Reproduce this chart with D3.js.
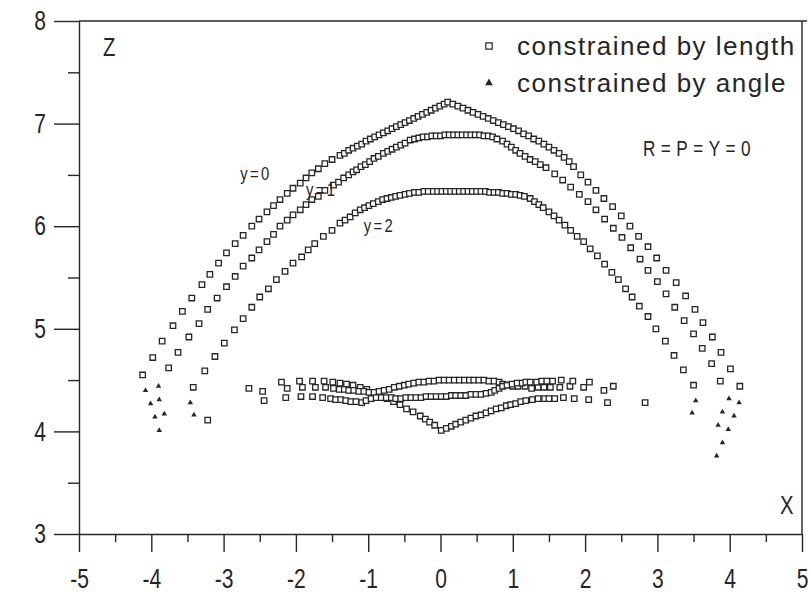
<!DOCTYPE html>
<html>
<head>
<meta charset="utf-8">
<script src="https://cdn.jsdelivr.net/npm/d3@7/dist/d3.min.js"></script>
<style>
  body { margin: 0; background: #fff; }
  svg { display: block; }
  text { font-family: "Liberation Sans", Arial, Helvetica, sans-serif; }
</style>
</head>
<body>
<div id="chart"></div>
<script>
// axis ticks
const xMajor = [-5, -4, -3, -2, -1, 0, 1, 2, 3, 4, 5];
const xMinor = [-4.5, -3.5, -2.5, -1.5, -0.5, 0.5, 1.5, 2.5, 3.5, 4.5];
const yMajor = [3, 4, 5, 6, 7, 8];
const yMinor = [3.5, 4.5, 5.5, 6.5, 7.5];

// constrained by length, y = 0 (outer arch) [x, z]
const archY0 = [
  [-4.12,4.55],[-3.98,4.72],[-3.85,4.88],[-3.70,5.03],[-3.57,5.17],[-3.44,5.30],[-3.30,5.43],[-3.19,5.53],
  [-3.07,5.64],[-2.96,5.74],[-2.84,5.83],[-2.73,5.91],[-2.61,6.00],[-2.51,6.07],[-2.40,6.14],[-2.31,6.20],
  [-2.22,6.26],[-2.12,6.32],[-2.04,6.37],[-1.94,6.42],[-1.86,6.47],[-1.78,6.52],[-1.69,6.56],[-1.60,6.61],
  [-1.50,6.65],[-1.39,6.69],[-1.33,6.71],[-1.27,6.74],[-1.21,6.76],[-1.15,6.78],[-1.09,6.80],[-1.03,6.83],
  [-0.97,6.85],[-0.91,6.87],[-0.85,6.89],[-0.79,6.91],[-0.73,6.93],[-0.67,6.95],[-0.61,6.97],[-0.55,6.99],
  [-0.49,7.01],[-0.43,7.03],[-0.37,7.05],[-0.31,7.07],[-0.25,7.09],[-0.19,7.11],[-0.13,7.13],[-0.07,7.15],
  [-0.01,7.17],[0.05,7.19],[0.10,7.21],[0.17,7.19],[0.24,7.17],[0.31,7.15],[0.38,7.13],[0.45,7.11],
  [0.52,7.09],[0.59,7.07],[0.66,7.05],[0.73,7.03],[0.80,7.01],[0.87,6.99],[0.94,6.97],[1.01,6.95],
  [1.08,6.93],[1.15,6.90],[1.22,6.88],[1.29,6.85],[1.36,6.83],[1.43,6.80],[1.50,6.77],[1.57,6.74],
  [1.64,6.71],[1.71,6.67],[1.78,6.63],[1.84,6.58],[1.94,6.50],[2.04,6.43],[2.15,6.35],[2.26,6.27],
  [2.38,6.19],[2.50,6.10],[2.62,6.00],[2.74,5.90],[2.87,5.80],[2.99,5.69],[3.12,5.57],[3.26,5.45],
  [3.39,5.32],[3.52,5.19],[3.63,5.06],[3.76,4.92],[3.88,4.77],[4.01,4.61],[4.14,4.44]
];

// constrained by length, y = 1
const archY1 = [
  [-3.76,4.62],[-3.63,4.77],[-3.48,4.92],[-3.34,5.05],[-3.22,5.19],[-3.09,5.30],[-2.96,5.41],[-2.84,5.51],
  [-2.73,5.61],[-2.61,5.69],[-2.51,5.77],[-2.40,5.85],[-2.31,5.92],[-2.22,6.00],[-2.12,6.06],[-2.04,6.11],
  [-1.94,6.16],[-1.86,6.21],[-1.78,6.26],[-1.69,6.29],[-1.60,6.35],[-1.48,6.40],[-1.41,6.43],[-1.34,6.47],
  [-1.27,6.50],[-1.21,6.53],[-1.16,6.55],[-1.10,6.58],[-1.04,6.60],[-0.98,6.63],[-0.92,6.66],[-0.86,6.68],
  [-0.79,6.71],[-0.73,6.73],[-0.67,6.75],[-0.61,6.77],[-0.55,6.79],[-0.49,6.81],[-0.42,6.84],[-0.36,6.85],
  [-0.30,6.86],[-0.24,6.87],[-0.18,6.87],[-0.12,6.88],[-0.06,6.88],[0.00,6.88],[0.06,6.89],[0.12,6.89],
  [0.18,6.89],[0.24,6.89],[0.30,6.89],[0.36,6.89],[0.42,6.89],[0.48,6.89],[0.54,6.89],[0.60,6.88],
  [0.66,6.88],[0.72,6.87],[0.78,6.85],[0.86,6.83],[0.92,6.80],[0.98,6.77],[1.04,6.74],[1.10,6.71],
  [1.17,6.68],[1.24,6.65],[1.31,6.63],[1.38,6.60],[1.46,6.57],[1.58,6.51],[1.69,6.45],[1.80,6.38],
  [1.92,6.31],[2.04,6.24],[2.15,6.16],[2.27,6.07],[2.39,5.98],[2.51,5.89],[2.63,5.79],[2.76,5.68],
  [2.87,5.57],[3.00,5.46],[3.12,5.34],[3.24,5.21],[3.37,5.08],[3.50,4.95],[3.62,4.81],[3.75,4.66],[3.87,4.49]
];

// constrained by length, y = 2
const archY2 = [
  [-3.26,4.59],[-3.12,4.73],[-2.99,4.86],[-2.85,4.99],[-2.73,5.10],[-2.61,5.21],[-2.50,5.31],[-2.38,5.39],
  [-2.27,5.48],[-2.15,5.56],[-2.04,5.64],[-1.92,5.70],[-1.83,5.77],[-1.74,5.83],[-1.62,5.90],[-1.50,5.96],
  [-1.39,6.03],[-1.32,6.06],[-1.25,6.09],[-1.18,6.13],[-1.11,6.16],[-1.05,6.18],[-0.99,6.20],[-0.93,6.22],
  [-0.86,6.24],[-0.80,6.26],[-0.74,6.27],[-0.68,6.28],[-0.62,6.29],[-0.56,6.30],[-0.49,6.31],[-0.43,6.32],
  [-0.36,6.33],[-0.30,6.33],[-0.23,6.34],[-0.17,6.34],[-0.10,6.34],[-0.04,6.34],[0.02,6.34],[0.08,6.34],
  [0.14,6.34],[0.20,6.34],[0.26,6.34],[0.32,6.34],[0.38,6.34],[0.44,6.34],[0.50,6.34],[0.56,6.34],
  [0.62,6.34],[0.68,6.33],[0.74,6.33],[0.80,6.33],[0.86,6.32],[0.92,6.32],[0.98,6.31],[1.04,6.31],
  [1.10,6.30],[1.16,6.29],[1.24,6.27],[1.30,6.24],[1.36,6.21],[1.42,6.18],[1.50,6.14],[1.57,6.10],
  [1.64,6.06],[1.72,6.01],[1.80,5.96],[1.89,5.90],[1.98,5.85],[2.07,5.78],[2.17,5.71],[2.27,5.63],
  [2.37,5.55],[2.46,5.48],[2.56,5.39],[2.65,5.31],[2.75,5.22],[2.87,5.12],[2.98,5.00],[3.11,4.88],
  [3.23,4.74],[3.36,4.60],[3.50,4.45]
];

// lower branches, constrained by length
const lowerA = [
  [-2.46,4.39],[-2.20,4.48],[-1.95,4.49],[-1.77,4.49],[-1.61,4.49],[-1.49,4.48],[-1.39,4.47],[-1.30,4.46],
  [-1.21,4.45],[-1.11,4.43],[-1.02,4.41],[-0.93,4.38],[-0.84,4.35],[-0.74,4.32],[-0.65,4.29],[-0.56,4.26],
  [-0.47,4.22],[-0.38,4.19],[-0.28,4.15],[-0.21,4.12],[-0.15,4.09],[-0.08,4.06],[0.01,4.01],[0.08,4.03],
  [0.15,4.05],[0.21,4.07],[0.28,4.09],[0.35,4.11],[0.42,4.13],[0.49,4.15],[0.56,4.16],[0.63,4.18],
  [0.70,4.20],[0.77,4.22],[0.84,4.23],[0.91,4.25],[0.97,4.26],[1.04,4.27],[1.11,4.29],[1.18,4.30],
  [1.27,4.31],[1.35,4.32],[1.44,4.32],[1.50,4.32],[1.58,4.32],[1.70,4.33],[1.85,4.32],[2.05,4.31],
  [2.31,4.28],[2.83,4.28]
];
const lowerB = [
  [-3.42,4.43],[-2.65,4.42],[-2.12,4.42],[-1.91,4.43],[-1.73,4.43],[-1.59,4.43],[-1.48,4.42],[-1.40,4.41],
  [-1.33,4.41],[-1.27,4.40],[-1.20,4.40],[-1.13,4.39],[-1.06,4.39],[-0.99,4.38],[-0.92,4.38],[-0.85,4.39],
  [-0.78,4.40],[-0.71,4.41],[-0.64,4.43],[-0.57,4.44],[-0.50,4.45],[-0.44,4.46],[-0.37,4.47],[-0.30,4.48],
  [-0.23,4.48],[-0.16,4.49],[-0.09,4.49],[-0.02,4.50],[0.05,4.50],[0.12,4.50],[0.19,4.50],[0.26,4.50],
  [0.33,4.50],[0.40,4.50],[0.46,4.50],[0.53,4.50],[0.60,4.50],[0.67,4.49],[0.74,4.49],[0.81,4.48],
  [0.86,4.46],[0.93,4.45],[1.00,4.44],[1.07,4.44],[1.17,4.44],[1.26,4.42],[1.35,4.43],[1.43,4.43],
  [1.52,4.43],[1.65,4.43],[1.79,4.44],[1.98,4.43],[2.26,4.40]
];
const lowerC = [
  [-3.22,4.11],[-2.44,4.30],[-2.14,4.33],[-1.93,4.34],[-1.77,4.34],[-1.63,4.33],[-1.52,4.32],[-1.45,4.31],
  [-1.38,4.31],[-1.31,4.30],[-1.24,4.29],[-1.17,4.29],[-1.09,4.28],[-1.03,4.30],[-0.96,4.32],[-0.89,4.33],
  [-0.82,4.33],[-0.75,4.33],[-0.68,4.33],[-0.62,4.32],[-0.55,4.32],[-0.48,4.33],[-0.41,4.33],[-0.34,4.33],
  [-0.27,4.33],[-0.20,4.34],[-0.13,4.34],[-0.06,4.34],[0.01,4.34],[0.08,4.34],[0.15,4.35],[0.21,4.35],
  [0.28,4.35],[0.35,4.35],[0.42,4.36],[0.49,4.36],[0.56,4.36],[0.63,4.37],[0.70,4.38],[0.75,4.40],
  [0.81,4.42],[0.86,4.44],[0.92,4.45],[0.99,4.46],[1.06,4.47],[1.13,4.47],[1.18,4.48],[1.24,4.48],
  [1.33,4.48],[1.40,4.49],[1.47,4.49],[1.55,4.49],[1.67,4.50],[1.83,4.49],[2.06,4.48],[2.39,4.44]
];

// constrained by angle
const angleLeft = [
  [-4.08,4.40],[-3.90,4.44],[-4.01,4.27],[-3.89,4.31],[-3.95,4.14],[-3.82,4.17],[-3.89,4.01],
  [-3.46,4.28],[-3.41,4.16]
];
const angleRight = [
  [3.53,4.30],[3.48,4.18],[3.99,4.32],[4.13,4.28],[3.90,4.19],[4.06,4.15],[3.84,4.06],[3.98,4.02],
  [3.90,3.89],[3.82,3.76]
];

const legendItems = ["constrained by length", "constrained by angle"];
const curveLabels = [
  {text: "y=0", x: -2.77, z: 6.45},
  {text: "y=1", x: -1.86, z: 6.29},
  {text: "y=2", x: -1.06, z: 5.94}
];

const width = 811, height = 605;
const ink = "#262626";
const squeeze = 0.78;

const svg = d3.select("#chart").append("svg")
  .attr("width", width)
  .attr("height", height)
  .attr("viewBox", `0 0 ${width} ${height}`);

const x = d3.scaleLinear().domain([-5, 5]).range([79, 802]);
const y = d3.scaleLinear().domain([3, 8]).range([534, 21]);

// narrow text: regular sans squeezed horizontally
function narrowText(parent, tx, ty, label, size, spacing) {
  return parent.append("text")
    .attr("transform", `translate(${tx},${ty}) scale(${squeeze},1)`)
    .attr("fill", ink)
    .style("font-size", size + "px")
    .style("letter-spacing", (spacing || 0) + "px")
    .text(label);
}

// axes
svg.append("g")
  .attr("transform", `translate(0,${y(3)})`)
  .call(d3.axisBottom(x).tickValues(xMajor).tickSize(18).tickSizeOuter(0).tickPadding(17)
    .tickFormat(d => String(d)))
  .call(g => g.selectAll(".tick text").attr("transform", `scale(${squeeze},1)`));
svg.append("g")
  .attr("transform", `translate(0,${y(3)})`)
  .call(d3.axisBottom(x).tickValues(xMinor).tickSize(8).tickFormat(""))
  .call(g => g.select(".domain").remove());

svg.append("g")
  .attr("transform", `translate(${x(-5)},0)`)
  .call(d3.axisLeft(y).tickValues(yMajor).tickSize(25).tickSizeOuter(0)
    .tickFormat(d => String(d)))
  .call(g => g.selectAll(".tick text").attr("x", 0)
    .attr("transform", `translate(-33,0) scale(${squeeze},1)`));
svg.append("g")
  .attr("transform", `translate(${x(-5)},0)`)
  .call(d3.axisLeft(y).tickValues(yMinor).tickSize(11).tickFormat(""))
  .call(g => g.select(".domain").remove());

svg.selectAll(".domain, .tick line").attr("stroke", ink).attr("stroke-width", 1.4);
svg.selectAll(".tick text").attr("fill", ink)
  .style("font-size", "27px")
  .style("font-family", '"Liberation Sans", Arial, sans-serif');

// frame: top and right side
svg.append("line")
  .attr("x1", x(-5)).attr("x2", x(5) + 5)
  .attr("y1", y(8)).attr("y2", y(8))
  .attr("stroke", ink).attr("stroke-width", 1.4);
svg.append("line")
  .attr("x1", x(5)).attr("x2", x(5))
  .attr("y1", y(8)).attr("y2", y(3))
  .attr("stroke", ink).attr("stroke-width", 1.4);

// markers
const square = d3.symbol().type(d3.symbolSquare).size(30);
const triangle = d3.symbol().type(d3.symbolTriangle).size(13);

const lengthSeries = [archY0, archY1, archY2, lowerA, lowerB, lowerC];
const plot = svg.append("g");

lengthSeries.forEach(series => {
  plot.append("g").selectAll("path")
    .data(series)
    .enter()
    .append("path")
    .attr("d", square)
    .attr("transform", d => `translate(${x(d[0])},${y(d[1])})`)
    .attr("fill", "#fff")
    .attr("stroke", ink)
    .attr("stroke-width", 1.3);
});

plot.append("g").selectAll("path")
  .data(angleLeft.concat(angleRight))
  .enter()
  .append("path")
  .attr("d", triangle)
  .attr("transform", d => `translate(${x(d[0])},${y(d[1])})`)
  .attr("fill", ink);

// axis names
narrowText(svg, 103, 56, "Z", 26);
narrowText(svg, 780, 514, "X", 26);

// legend
const legend = svg.append("g");
legendItems.forEach((label, i) => {
  const ly = 46 + i * 37;
  legend.append("path")
    .attr("d", i === 0 ? d3.symbol().type(d3.symbolSquare).size(40) : d3.symbol().type(d3.symbolTriangle).size(26))
    .attr("transform", `translate(489,${ly})`)
    .attr("fill", i === 0 ? "#fff" : ink)
    .attr("stroke", i === 0 ? ink : "none")
    .attr("stroke-width", 1.2);
  legend.append("text")
    .attr("x", 517).attr("y", ly + 9)
    .attr("fill", ink)
    .style("font-size", "26px")
    .style("letter-spacing", "1.5px")
    .text(label);
});

narrowText(svg, 643, 156, "R=P=Y=0", 22, 7);

// curve labels
curveLabels.forEach(d => narrowText(svg, x(d.x), y(d.z), d.text, 19, 3));
</script>
</body>
</html>
